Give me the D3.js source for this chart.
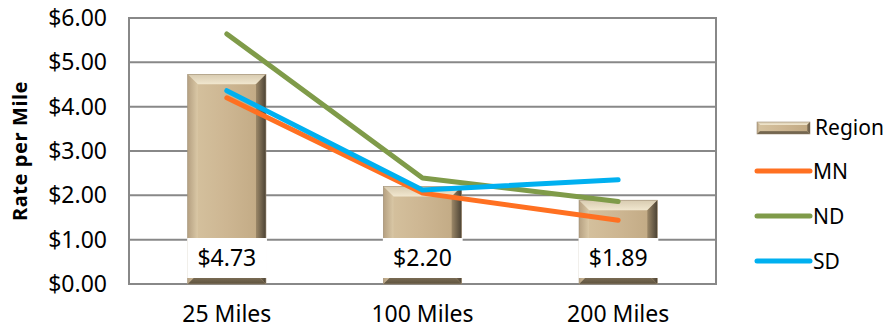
<!DOCTYPE html>
<html>
<head>
<meta charset="utf-8">
<script src="https://cdn.jsdelivr.net/npm/d3@7"></script>
<style>
  body { margin: 0; background: #fff; }
  svg text { font-family: "Noto Sans", sans-serif; fill: #000; }
</style>
</head>
<body>
<svg id="chart" width="887" height="330"></svg>
<script>
const categories = ["25 Miles", "100 Miles", "200 Miles"];
const regionValues = [4.73, 2.20, 1.89];
const regionLabels = ["$4.73", "$2.20", "$1.89"];
const mnValues = [4.20, 2.05, 1.44];
const ndValues = [5.64, 2.39, 1.86];
const sdValues = [4.36, 2.12, 2.35];
const yTicks = [0, 1, 2, 3, 4, 5, 6];
const seriesNames = ["MN", "ND", "SD"];
const seriesColors = ["#ff7021", "#7f9b49", "#00b0f0"];

const svg = d3.select("#chart");
const plot = { left: 129, right: 716, top: 18, bottom: 284 };

const x = d3.scaleBand().domain(categories).range([plot.left, plot.right])
  .paddingInner(0.6).paddingOuter(0.3);
const y = d3.scaleLinear().domain([0, 6]).range([plot.bottom, plot.top]);

const defs = svg.append("defs");
const g1 = defs.append("linearGradient").attr("id", "barFace").attr("x1", 0).attr("x2", 1).attr("y1", 0).attr("y2", 0);
g1.append("stop").attr("offset", "0%").attr("stop-color", "#d6c3a0");
g1.append("stop").attr("offset", "50%").attr("stop-color", "#cdb692");
g1.append("stop").attr("offset", "100%").attr("stop-color", "#c0a882");
const gR = defs.append("linearGradient").attr("id", "bevR").attr("x1", 0).attr("x2", 1);
gR.append("stop").attr("offset", "0%").attr("stop-color", "#9c8868");
gR.append("stop").attr("offset", "100%").attr("stop-color", "#4b4234");
const gL = defs.append("linearGradient").attr("id", "bevL").attr("x1", 0).attr("x2", 1);
gL.append("stop").attr("offset", "0%").attr("stop-color", "#b5a081");
gL.append("stop").attr("offset", "100%").attr("stop-color", "#dac8a6");
const gT = defs.append("linearGradient").attr("id", "bevT").attr("x1", 0).attr("x2", 0).attr("y1", 0).attr("y2", 1);
gT.append("stop").attr("offset", "0%").attr("stop-color", "#d8cbb0");
gT.append("stop").attr("offset", "100%").attr("stop-color", "#f1e7cf");
const gB = defs.append("linearGradient").attr("id", "bevB").attr("x1", 0).attr("x2", 0).attr("y1", 0).attr("y2", 1);
gB.append("stop").attr("offset", "0%").attr("stop-color", "#8a7a60");
gB.append("stop").attr("offset", "100%").attr("stop-color", "#5e533f");

// gridlines
svg.append("g").selectAll("line").data(yTicks).join("line")
  .attr("x1", plot.left).attr("x2", plot.right)
  .attr("y1", d => y(d)).attr("y2", d => y(d))
  .attr("stroke", "#888").attr("stroke-width", 2);
// border
svg.append("rect").attr("x", plot.left).attr("y", plot.top)
  .attr("width", plot.right - plot.left).attr("height", plot.bottom - plot.top)
  .attr("fill", "none").attr("stroke", "#888").attr("stroke-width", 2);

function bevelBar(g, x0, y0, w, h, b) {
  const x1 = x0 + w, y1 = y0 + h;
  g.append("rect").attr("x", x0).attr("y", y0).attr("width", w).attr("height", h).attr("fill", "url(#barFace)");
  g.append("polygon").attr("points", [[x0, y0], [x1, y0], [x1 - b, y0 + b], [x0 + b, y0 + b]].join(" ")).attr("fill", "url(#bevT)");
  g.append("polygon").attr("points", [[x1, y0], [x1, y1], [x1 - b, y1 - b], [x1 - b, y0 + b]].join(" ")).attr("fill", "url(#bevR)");
  g.append("polygon").attr("points", [[x0, y0], [x0 + b, y0 + b], [x0 + b, y1 - b], [x0, y1]].join(" ")).attr("fill", "url(#bevL)");
  g.append("polygon").attr("points", [[x0, y1], [x0 + b, y1 - b], [x1 - b, y1 - b], [x1, y1]].join(" ")).attr("fill", "url(#bevB)");
  g.append("rect").attr("x", x0).attr("y", y0).attr("width", w).attr("height", h).attr("fill", "none").attr("stroke", "#a09078").attr("stroke-width", 0.6);
}

const bars = svg.append("g");
categories.forEach((c, i) => {
  const bx = x(c), bw = x.bandwidth();
  const top = y(regionValues[i]);
  bevelBar(bars, bx, top, bw, y(0) - top, 10);
});

// data label boxes
const lab = svg.append("g");
categories.forEach((c, i) => {
  const bx = x(c), bw = x.bandwidth();
  lab.append("rect").attr("x", bx - 0.5).attr("y", 238).attr("width", bw + 1.5).attr("height", 40).attr("fill", "#fff");
  lab.append("text").attr("x", bx + bw / 2).attr("y", 266).attr("text-anchor", "middle")
    .attr("font-size", 23).text(regionLabels[i]);
});

// lines
const lineGen = d3.line().x((d, i) => x(categories[i]) + x.bandwidth() / 2).y(d => y(d));
[mnValues, ndValues, sdValues].forEach((vals, k) => {
  svg.append("path").attr("d", lineGen(vals)).attr("fill", "none")
    .attr("stroke", seriesColors[k]).attr("stroke-width", 5)
    .attr("stroke-linecap", "round").attr("stroke-linejoin", "round");
});

// y axis labels
svg.append("g").selectAll("text").data(yTicks).join("text")
  .attr("x", 107).attr("y", d => y(d) + 8).attr("text-anchor", "end")
  .attr("font-size", 23).text(d => "$" + d3.format(".2f")(d));

// x axis labels
svg.append("g").selectAll("text").data(categories).join("text")
  .attr("x", d => x(d) + x.bandwidth() / 2).attr("y", 322).attr("text-anchor", "middle")
  .attr("font-size", 23).text(d => d);

// y title
svg.append("text").attr("transform", "translate(27,151) rotate(-90)")
  .attr("text-anchor", "middle").attr("font-size", 20).attr("font-weight", "bold")
  .attr("letter-spacing", 0.6)
  .text("Rate per Mile");

// legend
const leg = svg.append("g");
bevelBar(leg, 757, 122, 53, 12, 3);
leg.append("text").attr("x", 815).attr("y", 135).attr("font-size", 21).text("Region");
seriesNames.forEach((n, k) => {
  const ly = 171 + k * 45;
  leg.append("line").attr("x1", 757).attr("x2", 810).attr("y1", ly).attr("y2", ly)
    .attr("stroke", seriesColors[k]).attr("stroke-width", 5).attr("stroke-linecap", "round");
  leg.append("text").attr("x", 813).attr("y", ly + 8).attr("font-size", 21).text(n);
});
</script>
</body>
</html>
